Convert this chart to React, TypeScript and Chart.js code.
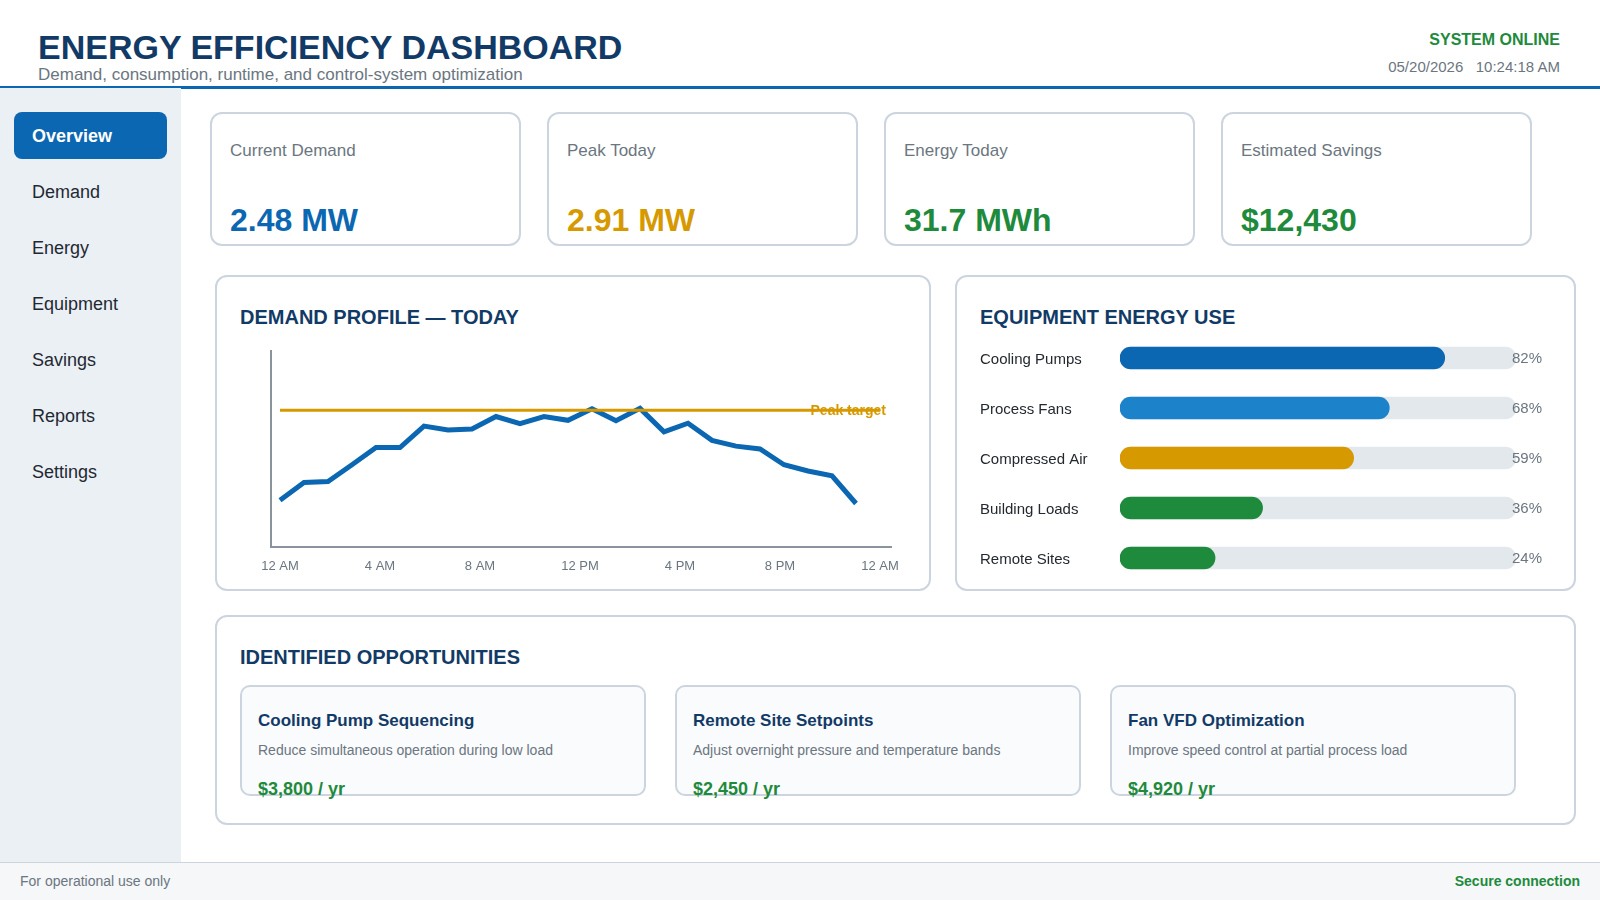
import { useEffect, useRef } from "react";
import type { CSSProperties, ReactNode } from "react";
import { Chart, registerables } from "chart.js";

Chart.register(...registerables);

const BLUE = "#0b67b2";
const NAVY = "#123a66";
const AMBER = "#d69900";
const GREEN = "#1e8a3c";
const GRAY = "#6b7680";
const BORDER = "#ccd5df";

const navItems = ["Overview", "Demand", "Energy", "Equipment", "Savings", "Reports", "Settings"];

const kpiLabels = ["Current Demand", "Peak Today", "Energy Today", "Estimated Savings"];
const kpiValues = ["2.48 MW", "2.91 MW", "31.7 MWh", "$12,430"];
const kpiColors = [BLUE, AMBER, GREEN, GREEN];

// hours since midnight for each sample, MW
const demandHours = [
  0, 0.96, 1.92, 2.88, 3.84, 4.8, 5.76, 6.72, 7.68, 8.64, 9.6, 10.56, 11.52, 12.48, 13.44, 14.4,
  15.36, 16.32, 17.28, 18.24, 19.2, 20.16, 21.12, 22.08, 23.04,
];
const demandMw = [
  0.98, 1.35, 1.37, 1.72, 2.08, 2.08, 2.53, 2.45, 2.47, 2.73, 2.58, 2.73, 2.65, 2.89, 2.64, 2.9,
  2.41, 2.59, 2.23, 2.11, 2.05, 1.72, 1.59, 1.49, 0.91,
];
const targetHours = [0, 24];
const targetMw = [2.86, 2.86];
const hourTicks = [0, 4, 8, 12, 16, 20, 24];
const hourLabels = ["12 AM", "4 AM", "8 AM", "12 PM", "4 PM", "8 PM", "12 AM"];

const equipmentNames = ["Cooling Pumps", "Process Fans", "Compressed Air", "Building Loads", "Remote Sites"];
const equipmentUse = [82, 68, 59, 36, 24];
const equipmentTrack = [100, 100, 100, 100, 100];
const equipmentColors = [BLUE, "#1c82ca", AMBER, GREEN, GREEN];

const oppTitles = ["Cooling Pump Sequencing", "Remote Site Setpoints", "Fan VFD Optimization"];
const oppNotes = [
  "Reduce simultaneous operation during low load",
  "Adjust overnight pressure and temperature bands",
  "Improve speed control at partial process load",
];
const oppSavings = ["$3,800 / yr", "$2,450 / yr", "$4,920 / yr"];

const FONT = '"Liberation Sans", Arial, sans-serif';

function Txt({
  x,
  cy,
  right,
  size,
  color,
  bold,
  children,
}: {
  x?: number;
  cy: number;
  right?: number;
  size: number;
  color: string;
  bold?: boolean;
  children: ReactNode;
}) {
  const style: CSSProperties = {
    position: "absolute",
    top: cy - 20,
    height: 40,
    lineHeight: "40px",
    fontSize: size,
    color,
    fontWeight: bold ? 700 : 400,
    whiteSpace: "pre",
  };
  if (x !== undefined) style.left = x;
  if (right !== undefined) style.right = 1600 - right;
  return <div style={style}>{children}</div>;
}

function Box({
  x,
  y,
  w,
  h,
  radius = 12,
  background = "#fff",
}: {
  x: number;
  y: number;
  w: number;
  h: number;
  radius?: number;
  background?: string;
}) {
  return (
    <div
      style={{
        position: "absolute",
        left: x,
        top: y,
        width: w,
        height: h,
        boxSizing: "border-box",
        border: `2px solid ${BORDER}`,
        borderRadius: radius,
        background,
      }}
    />
  );
}

function DemandChart() {
  const canvasRef = useRef<HTMLCanvasElement>(null);

  useEffect(() => {
    if (!canvasRef.current) return;
    const peakLabel = {
      id: "peakLabel",
      afterDatasetsDraw(chart: Chart) {
        const { ctx, scales } = chart;
        ctx.save();
        ctx.font = `bold 14px ${FONT}`;
        ctx.fillStyle = AMBER;
        ctx.textAlign = "right";
        ctx.textBaseline = "middle";
        ctx.fillText("Peak target", scales.x.getPixelForValue(24) + 6, scales.y.getPixelForValue(targetMw[0]) + 1);
        ctx.restore();
      },
    };
    const chart = new Chart(canvasRef.current, {
      type: "line",
      data: {
        datasets: [
          {
            label: "Peak target",
            data: targetHours.map((h, i) => ({ x: h, y: targetMw[i] })),
            borderColor: AMBER,
            borderWidth: 3,
            pointRadius: 0,
          },
          {
            label: "Demand",
            data: demandHours.map((h, i) => ({ x: h, y: demandMw[i] })),
            borderColor: BLUE,
            borderWidth: 5,
            borderJoinStyle: "miter",
            pointRadius: 0,
            tension: 0,
          },
        ],
      },
      options: {
        animation: false,
        responsive: false,
        layout: { padding: { left: 41, top: 11, right: 29, bottom: 0 } },
        plugins: { legend: { display: false }, tooltip: { enabled: false } },
        scales: {
          x: {
            type: "linear",
            min: -0.36,
            max: 24.44,
            grid: { display: false },
            border: { display: true, color: "#8a949e", width: 2 },
            afterBuildTicks: (scale) => {
              scale.ticks = hourTicks.map((value) => ({ value }));
            },
            afterFit: (scale) => {
              scale.height = 43;
            },
            ticks: {
              autoSkip: false,
              maxRotation: 0,
              padding: 4,
              color: GRAY,
              font: { family: FONT, size: 13 },
              callback: (value) => hourLabels[hourTicks.indexOf(Number(value))],
            },
          },
          y: {
            min: 0,
            max: 4.1,
            grid: { display: false },
            border: { display: true, color: "#8a949e", width: 2 },
            ticks: { display: false },
            afterFit: (scale) => {
              scale.width = 0;
            },
          },
        },
      },
      plugins: [peakLabel],
    });
    return () => chart.destroy();
  }, []);

  return (
    <canvas
      ref={canvasRef}
      width={690}
      height={250}
      style={{ position: "absolute", left: 230, top: 340, width: 690, height: 250 }}
    />
  );
}

function EquipmentChart() {
  const canvasRef = useRef<HTMLCanvasElement>(null);

  useEffect(() => {
    if (!canvasRef.current) return;
    // row names and percents sit a little below the bar centres, so they are drawn here
    const rowLabels = {
      id: "rowLabels",
      afterDatasetsDraw(chart: Chart) {
        const { ctx, scales } = chart;
        ctx.save();
        ctx.font = `15px ${FONT}`;
        ctx.textAlign = "left";
        ctx.textBaseline = "middle";
        equipmentNames.forEach((name, i) => {
          const y = scales.y.getPixelForValue(i);
          ctx.fillStyle = "#24292f";
          ctx.fillText(name, 0, y + 2);
          ctx.fillStyle = GRAY;
          ctx.fillText(`${equipmentUse[i]}%`, scales.x.getPixelForValue(100) - 4, y + 1);
        });
        ctx.restore();
      },
    };
    const chart = new Chart(canvasRef.current, {
      type: "bar",
      data: {
        labels: equipmentNames,
        datasets: [
          {
            label: "Use",
            data: equipmentUse,
            backgroundColor: equipmentColors,
            barThickness: 22,
            borderRadius: 11,
            borderSkipped: false,
          },
          {
            label: "Track",
            data: equipmentTrack,
            backgroundColor: "#e3e8ec",
            barThickness: 22,
            borderRadius: 11,
            borderSkipped: false,
          },
        ],
      },
      options: {
        animation: false,
        responsive: false,
        indexAxis: "y",
        layout: { padding: { right: 64 } },
        plugins: { legend: { display: false }, tooltip: { enabled: false } },
        datasets: { bar: { grouped: false } },
        scales: {
          x: { display: false, min: 0, max: 100 },
          y: {
            grid: { display: false },
            border: { display: false },
            ticks: { display: false },
            afterFit: (scale: any) => {
              scale.width = 140;
            },
          },
        },
      } as any,
      plugins: [rowLabels],
    });
    return () => chart.destroy();
  }, []);

  return (
    <canvas
      ref={canvasRef}
      width={600}
      height={250}
      style={{ position: "absolute", left: 980, top: 333, width: 600, height: 250 }}
    />
  );
}

export default function App() {
  return (
    <div
      style={{
        position: "relative",
        width: 1600,
        height: 900,
        overflow: "hidden",
        background: "#fff",
        fontFamily: FONT,
      }}
    >
      <style>{"body{margin:0}"}</style>

      {/* header */}
      <div style={{ position: "absolute", left: 0, top: 86, width: 1600, height: 3, background: BLUE }} />
      <Txt x={38} cy={47} size={34} color={NAVY} bold>
        ENERGY EFFICIENCY DASHBOARD
      </Txt>
      <Txt x={38} cy={75} size={17} color={GRAY}>
        Demand, consumption, runtime, and control-system optimization
      </Txt>
      <Txt right={1560} cy={40} size={16} color={GREEN} bold>
        SYSTEM ONLINE
      </Txt>
      <Txt right={1560} cy={67} size={15} color={GRAY}>
        {"05/20/2026   10:24:18 AM"}
      </Txt>

      {/* sidebar */}
      <div style={{ position: "absolute", left: 0, top: 88, width: 181, height: 775, background: "#ebf0f4" }} />
      <div style={{ position: "absolute", left: 14, top: 112, width: 153, height: 47, borderRadius: 8, background: BLUE }} />
      {navItems.map((item, i) => (
        <Txt key={item} x={32} cy={136 + i * 56} size={18} color={i === 0 ? "#fff" : "#1f2933"} bold={i === 0}>
          {item}
        </Txt>
      ))}

      {/* KPI cards */}
      {kpiLabels.map((label, i) => (
        <div key={label}>
          <Box x={210 + i * 337} y={112} w={311} h={134} />
          <Txt x={230 + i * 337} cy={151} size={17} color={GRAY}>
            {label}
          </Txt>
          <Txt x={230 + i * 337} cy={220} size={32} color={kpiColors[i]} bold>
            {kpiValues[i]}
          </Txt>
        </div>
      ))}

      {/* demand profile */}
      <Box x={215} y={275} w={716} h={316} />
      <Txt x={240} cy={317} size={20} color={NAVY} bold>
        DEMAND PROFILE — TODAY
      </Txt>
      <DemandChart />

      {/* equipment use */}
      <Box x={955} y={275} w={621} h={316} />
      <Txt x={980} cy={317} size={20} color={NAVY} bold>
        EQUIPMENT ENERGY USE
      </Txt>
      <EquipmentChart />

      {/* opportunities */}
      <Box x={215} y={615} w={1361} h={210} />
      <Txt x={240} cy={657} size={20} color={NAVY} bold>
        IDENTIFIED OPPORTUNITIES
      </Txt>
      {oppTitles.map((title, i) => (
        <div key={title}>
          <Box x={240 + i * 435} y={685} w={406} h={111} radius={10} background="#fafbfd" />
          <Txt x={258 + i * 435} cy={721} size={17} color={NAVY} bold>
            {title}
          </Txt>
          <Txt x={258 + i * 435} cy={750} size={14} color={GRAY}>
            {oppNotes[i]}
          </Txt>
          <Txt x={258 + i * 435} cy={789} size={18} color={GREEN} bold>
            {oppSavings[i]}
          </Txt>
        </div>
      ))}

      {/* footer */}
      <div
        style={{
          position: "absolute",
          left: 0,
          top: 862,
          width: 1600,
          height: 38,
          boxSizing: "border-box",
          borderTop: `1px solid ${BORDER}`,
          background: "#f5f7f9",
        }}
      />
      <Txt x={20} cy={881} size={14} color={GRAY}>
        For operational use only
      </Txt>
      <Txt right={1580} cy={881} size={14} color={GREEN} bold>
        Secure connection
      </Txt>
    </div>
  );
}
